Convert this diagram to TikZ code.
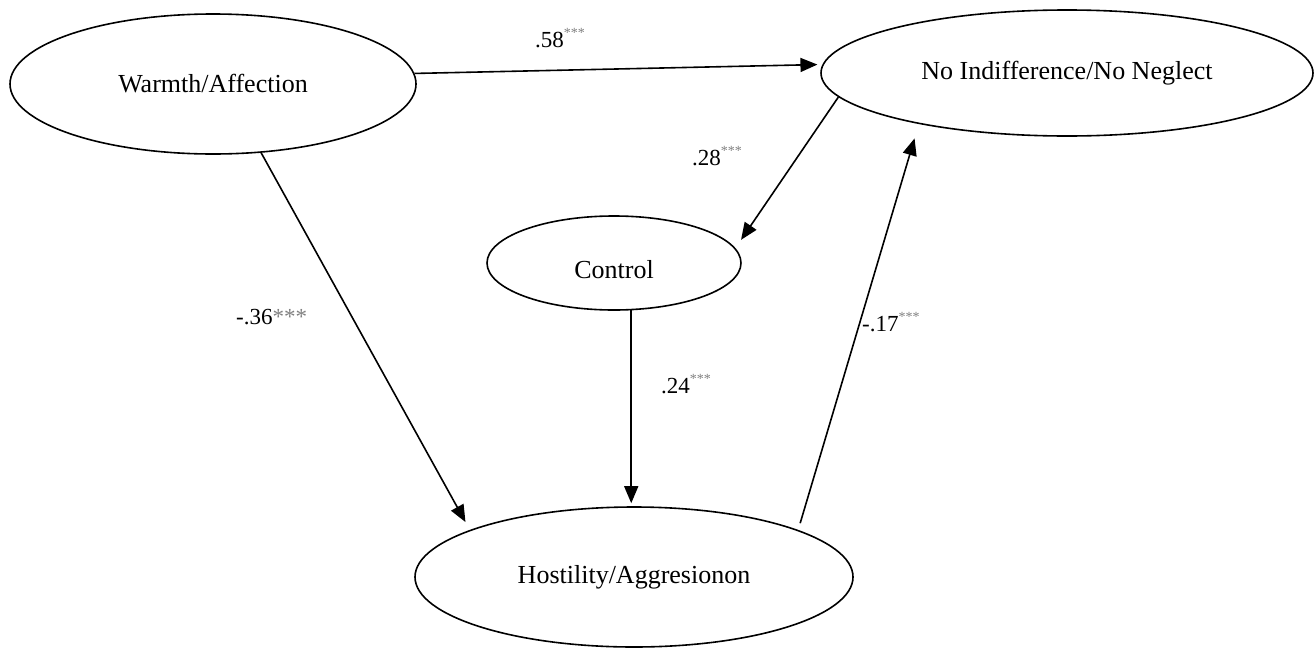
\documentclass[tikz,border=0pt]{standalone}
\usepackage{fontspec}
\setmainfont{Liberation Serif}
\usetikzlibrary{shapes.geometric,arrows.meta}
\newcommand{\stars}{\raisebox{0.42em}{\fontsize{14}{14}\selectfont\textcolor{gray}{***}}}
\begin{document}
\begin{tikzpicture}[x=1pt,y=-1pt,
  lat/.style={draw,ellipse,line width=1.6pt,inner sep=0pt,font=\fontsize{26}{30}\selectfont},
  pth/.style={line width=1.6pt,-{Triangle[length=17pt,width=14pt]}},
  coef/.style={font=\fontsize{23}{27}\selectfont,inner sep=0pt,anchor=base west}]
\useasboundingbox (0,0) rectangle (1314,648);
\node[lat,minimum width=406pt,minimum height=140pt] (W) at (213,84) {Warmth/Affection};
\node[lat,minimum width=492pt,minimum height=126pt] (N) at (1067,73) {No Indifference/No Neglect};
\node[lat,minimum width=254pt,minimum height=94pt] (C) at (614,263) {\raisebox{-15pt}[0pt][0pt]{Control}};
\node[lat,minimum width=438pt,minimum height=140pt] (H) at (634,577) {Hostility/Aggresionon};
\draw[pth,shorten >=5pt] (W.3) -- (N.178);
\draw[pth,shorten >=10pt] (N.186.3) -- (C.7.3);
\draw[pth,shorten >=9pt] (W.-55.4) -- (H.164.5);
\draw[pth,shorten >=3pt] (C.-70) -- (C.-70 |- H.north);
\draw[pth,shorten <=7pt,shorten >=15pt] (H.16.3) -- (N.199.6);
\node[coef] (l1) at (535,47) {.58\stars};
\node[coef] (l2) at (692,165) {.28\stars};
\node[coef] (l3) at (236,324) {-.36\textcolor{gray}{***}};
\node[coef] (l4) at (661,393) {.24\stars};
\node[coef] (l5) at (862,331) {-.17\stars};
\end{tikzpicture}
\end{document}
